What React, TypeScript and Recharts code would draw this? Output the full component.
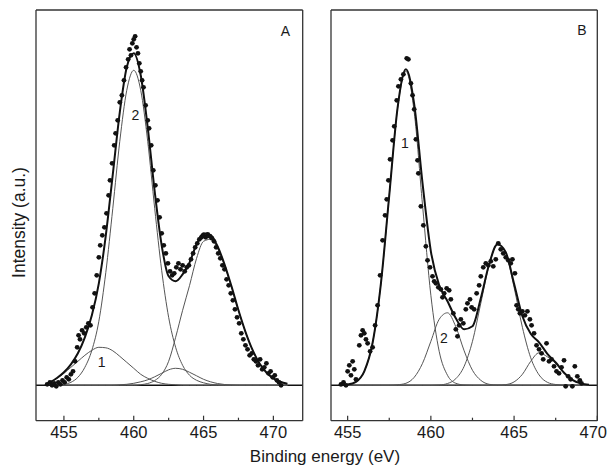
import React from "react";
import {
  ComposedChart,
  Line,
  Scatter,
  XAxis,
  YAxis,
  ReferenceLine,
} from "recharts";

// intensities are in arbitrary units, 0 = fitted background
const A_GRID = [
  454, 454.5, 455, 455.5, 456, 456.5, 457, 457.5, 458, 458.5, 459, 459.5, 460,
  460.5, 461, 461.5, 462, 462.5, 463, 463.5, 464, 464.5, 465, 465.5, 466, 466.5,
  467, 467.5, 468, 468.5, 469, 469.5, 470, 470.5, 471,
];
const A_PEAK1 = [
  3, 7, 12, 18, 24, 30, 35, 38, 37.5, 34.5, 29, 23, 17, 11, 7, 4, 2, 1, 0.5, 0,
  0, 0, 0, 0, 0, 0, 0, 0, 0, 0, 0, 0, 0, 0, 0,
];
const A_PEAK2 = [
  0, 0.3, 1, 3, 8, 18, 35, 64, 113, 177, 244, 295, 315, 295, 244, 177, 115, 68,
  38, 20, 10, 5, 2.5, 1, 0.4, 0, 0, 0, 0, 0, 0, 0, 0, 0, 0,
];
const A_PEAK3 = [
  0, 0, 0, 0, 0, 0, 0, 0, 0, 0, 0.5, 1, 2, 3.5, 5.5, 8.5, 12, 15.5, 17, 16, 13,
  9.5, 6, 3.5, 1.8, 0.8, 0.3, 0, 0, 0, 0, 0, 0, 0, 0,
];
const A_PEAK4 = [
  0, 0, 0, 0, 0, 0, 0, 0, 0, 0, 0, 0, 0, 0.6, 1.8, 4.7, 11, 24, 48, 75, 100,
  127, 144, 146, 137, 120, 98.5, 75, 53.5, 35.6, 22, 12.8, 6.9, 3.5, 1.6,
];
const A_FIT = [
  3, 7.3, 13, 21, 32, 48, 70, 102, 150, 211, 273, 318, 332, 310, 258, 194, 140,
  109, 104, 111, 123, 141, 152, 150.5, 139, 121, 99, 75, 53.5, 35.6, 22, 12.8,
  6.9, 3.5, 1.6,
];
const A_POINTS: [number, number][] = [
  [453.8, 1], [454.0, 3], [454.15, 0], [454.3, 2], [454.45, -1], [454.6, 3],
  [454.75, 1], [454.9, 5], [455.05, 3], [455.2, 8], [455.35, 6], [455.5, 11],
  [455.65, 14], [455.8, 24], [455.95, 38], [456.05, 50], [456.15, 46],
  [456.3, 55], [456.45, 52], [456.6, 58], [456.75, 62], [456.9, 60],
  [457.05, 78], [457.2, 92], [457.35, 110], [457.5, 128], [457.6, 140],
  [457.75, 150], [457.9, 158], [458.05, 172], [458.2, 190], [458.3, 205],
  [458.45, 222], [458.6, 240], [458.7, 252], [458.85, 265], [459.0, 283],
  [459.15, 290], [459.3, 305], [459.45, 318], [459.6, 326], [459.7, 336],
  [459.8, 330], [459.9, 342], [460.0, 346], [460.1, 349], [460.2, 338],
  [460.3, 332], [460.4, 322], [460.5, 314], [460.6, 305], [460.7, 298],
  [460.85, 280], [461.0, 265], [461.1, 257], [461.25, 240], [461.4, 215],
  [461.55, 200], [461.7, 185], [461.85, 168], [462.0, 152], [462.15, 140],
  [462.3, 132], [462.45, 122], [462.6, 114], [462.75, 110], [462.9, 112],
  [463.05, 118], [463.2, 122], [463.35, 116], [463.5, 120], [463.65, 114],
  [463.8, 118], [463.95, 120], [464.1, 126], [464.25, 132], [464.4, 138],
  [464.55, 142], [464.7, 146], [464.85, 148], [465.0, 150], [465.15, 148],
  [465.3, 151], [465.45, 149], [465.6, 147], [465.75, 144], [465.9, 138],
  [466.05, 132], [466.2, 127], [466.35, 120], [466.5, 116], [466.65, 106],
  [466.8, 100], [466.95, 92], [467.1, 85], [467.25, 76], [467.4, 68],
  [467.55, 62], [467.7, 52], [467.85, 46], [468.0, 40], [468.15, 36],
  [468.3, 30], [468.45, 32], [468.6, 26], [468.75, 24], [468.9, 20],
  [469.05, 26], [469.2, 16], [469.35, 18], [469.5, 22], [469.65, 12],
  [469.8, 14], [469.95, 8], [470.1, 10], [470.25, 5], [470.4, 3], [470.55, 0],
];

const B_GRID = [
  454.5, 455, 455.5, 456, 456.5, 457, 457.5, 458, 458.5, 459, 459.5, 460, 460.5,
  461, 461.5, 462, 462.5, 463, 463.5, 464, 464.5, 465, 465.5, 466, 466.5, 467,
  467.5, 468, 468.5, 469, 469.5,
];
const B_PEAK1 = [
  0, 0.7, 3.5, 14, 42.5, 102, 190, 277, 314, 273, 180, 90, 34, 10, 2, 0.3, 0, 0,
  0, 0, 0, 0, 0, 0, 0, 0, 0, 0, 0, 0, 0,
];
const B_PEAK2 = [
  0, 0, 0, 0, 0, 0, 0, 0.5, 2, 8, 22, 44, 66, 72.5, 58.5, 34.5, 15, 5, 1, 0.2,
  0, 0, 0, 0, 0, 0, 0, 0, 0, 0, 0,
];
const B_PEAK3 = [
  0, 0, 0, 0, 0, 0, 0, 0, 0, 0, 0, 0, 0.3, 1.8, 6.6, 19, 44, 82, 120, 141, 132,
  98, 58, 27.5, 10.4, 3, 0.8, 0.2, 0, 0, 0,
];
const B_PEAK4 = [
  0, 0, 0, 0, 0, 0, 0, 0, 0, 0, 0, 0, 0, 0, 0, 0, 0, 0, 0, 0.1, 0.7, 3.4, 11,
  24, 32.5, 28.5, 22, 12.4, 5.4, 1.9, 0.5,
];
const B_FIT = [
  0, 0.7, 3.5, 14, 42.5, 102, 190, 277.5, 316, 281, 202, 134, 100, 84, 67, 56,
  59, 87, 121, 141, 133, 101.5, 69, 51.5, 43, 31.5, 22.8, 12.6, 5.4, 1.9, 0.5,
];
const B_POINTS: [number, number][] = [
  [454.6, 1], [454.75, 3], [454.9, 0], [455.0, 14], [455.1, 20], [455.2, 10],
  [455.3, 24], [455.4, 16], [455.5, 6], [455.7, 40], [455.8, 50], [455.9, 55],
  [456.0, 52], [456.1, 46], [456.2, 42], [456.35, 34], [456.5, 38],
  [456.65, 60], [456.8, 80], [456.95, 110], [457.1, 145], [457.25, 170],
  [457.35, 186], [457.45, 205], [457.55, 226], [457.7, 245], [457.8, 259],
  [457.95, 285], [458.05, 299], [458.2, 306], [458.35, 311], [458.55, 327],
  [458.65, 326], [458.8, 302], [458.9, 290], [459.0, 276], [459.1, 246],
  [459.2, 225], [459.25, 212], [459.4, 179], [459.55, 160], [459.7, 139],
  [459.8, 125], [459.95, 118], [460.1, 109], [460.2, 104], [460.3, 102],
  [460.45, 98], [460.6, 96], [460.7, 88], [460.8, 92], [460.95, 97],
  [461.1, 95], [461.2, 86], [461.35, 72], [461.5, 56], [461.6, 49],
  [461.7, 60], [461.8, 66], [461.95, 62], [462.1, 76], [462.2, 82],
  [462.35, 86], [462.45, 78], [462.6, 76], [462.75, 92], [462.9, 100],
  [463.0, 109], [463.15, 118], [463.3, 122], [463.45, 120], [463.6, 124],
  [463.75, 119], [463.9, 126], [464.05, 142], [464.2, 136], [464.35, 132],
  [464.5, 128], [464.65, 125], [464.8, 122], [464.9, 126], [465.05, 112],
  [465.15, 80], [465.25, 76], [465.35, 72], [465.5, 74], [465.65, 70],
  [465.8, 74], [465.95, 66], [466.05, 60], [466.2, 52], [466.35, 40],
  [466.5, 36], [466.65, 32], [466.75, 26], [466.95, 42], [467.1, 24],
  [467.25, 26], [467.4, 19], [467.55, 14], [467.7, 12], [467.85, 18],
  [468.0, 25], [468.1, -1], [468.25, 9], [468.4, 6], [468.5, -1],
  [468.65, 19], [468.8, 9], [468.95, 5], [469.05, 2],
];

const A_DOMAIN: [number, number] = [453, 472.1];
const B_DOMAIN: [number, number] = [454, 470];
const Y_DOMAIN: [number, number] = [-35.4, 375.3];
const A_TICKS = [455, 457.5, 460, 462.5, 465, 467.5, 470];
const B_TICKS = [455, 457.5, 460, 462.5, 465, 467.5, 470];

const FONT = '"Liberation Sans", Arial, Helvetica, sans-serif';
const INK = "#1a1a1a";
const FRAME = { stroke: "#333", strokeWidth: 1.3 };

const rows = (xs: number[], ys: number[]) => xs.map((e, i) => ({ e, v: ys[i] }));
const pts = (list: [number, number][]) => list.map(([e, v]) => ({ e, v }));

const EnergyTick = (props: any) => {
  const { x, y, payload, limit } = props;
  const major = payload.value % 5 === 0;
  // keep the last label inside the picture, as the original does
  const tooFar = x + 14 > limit;
  return (
    <g>
      <line x1={x} x2={x} y1={y} y2={y - (major ? 5 : 3)} stroke="#333" strokeWidth={1.2} />
      {major && (
        <text
          x={tooFar ? limit - 1 : x}
          y={y + 17.5}
          textAnchor={tooFar ? "end" : "middle"}
          fontSize={16.5}
          fill={INK}
          fontFamily={FONT}
        >
          {payload.value}
        </text>
      )}
    </g>
  );
};

const Dot = (p: any) => <circle cx={p.cx} cy={p.cy} r={2.4} fill="#111" />;

interface PanelProps {
  width: number;
  margin: { top: number; right: number; bottom: number; left: number };
  domain: [number, number];
  ticks: number[];
  grid: number[];
  peaks: number[][];
  fit: number[];
  points: [number, number][];
}

function Panel({ width, margin, domain, ticks, grid, peaks, fit, points }: PanelProps) {
  return (
    <ComposedChart width={width} height={468} margin={margin}>
      <XAxis
        dataKey="e"
        type="number"
        domain={domain}
        ticks={ticks}
        height={1}
        tickSize={0}
        tickMargin={0}
        tickLine={false}
        tick={(p: any) => <EnergyTick {...p} limit={width} />}
        axisLine={FRAME}
        interval={0}
        allowDataOverflow
      />
      <XAxis
        xAxisId="top"
        orientation="top"
        type="number"
        domain={domain}
        height={1}
        tick={false}
        tickLine={false}
        axisLine={FRAME}
      />
      <YAxis
        dataKey="v"
        type="number"
        domain={Y_DOMAIN}
        width={1}
        tick={false}
        tickLine={false}
        axisLine={FRAME}
        allowDataOverflow
      />
      <YAxis
        yAxisId="right"
        orientation="right"
        type="number"
        domain={Y_DOMAIN}
        width={1}
        tick={false}
        tickLine={false}
        axisLine={FRAME}
      />
      <ReferenceLine y={0} stroke="#111" strokeWidth={1.6} />
      {peaks.map((peak, i) => (
        <Line
          key={i}
          data={rows(grid, peak)}
          dataKey="v"
          type="monotone"
          stroke="#555"
          strokeWidth={1}
          dot={false}
          isAnimationActive={false}
        />
      ))}
      <Scatter data={pts(points)} shape={Dot} isAnimationActive={false} />
      <Line
        data={rows(grid, fit)}
        dataKey="v"
        type="monotone"
        stroke="#111"
        strokeWidth={2}
        dot={false}
        isAnimationActive={false}
      />
    </ComposedChart>
  );
}

export default function App() {
  const txt = { fontFamily: FONT, fill: INK };
  return (
    <div style={{ position: "absolute", left: 0, top: 0, width: 608, height: 468, background: "#fff" }}>
      <div style={{ position: "absolute", left: 0, top: 0 }}>
        <Panel
          width={310}
          margin={{ top: 9, right: 6.3, bottom: 46.3, left: 35 }}
          domain={A_DOMAIN}
          ticks={A_TICKS}
          grid={A_GRID}
          peaks={[A_PEAK1, A_PEAK2, A_PEAK3, A_PEAK4]}
          fit={A_FIT}
          points={A_POINTS}
        />
      </div>
      <div style={{ position: "absolute", left: 310, top: 0 }}>
        <Panel
          width={298}
          margin={{ top: 9, right: 9.7, bottom: 46.3, left: 20 }}
          domain={B_DOMAIN}
          ticks={B_TICKS}
          grid={B_GRID}
          peaks={[B_PEAK1, B_PEAK2, B_PEAK3, B_PEAK4]}
          fit={B_FIT}
          points={B_POINTS}
        />
      </div>
      <svg width={608} height={468} style={{ position: "absolute", left: 0, top: 0, pointerEvents: "none" }}>
        <text x={18.5} y={222.5} transform="rotate(-90 18.5 222.5)" textAnchor="middle" dominantBaseline="central" fontSize={17.5} {...txt}>
          Intensity (a.u.)
        </text>
        <text x={325} y={462} textAnchor="middle" fontSize={17} {...txt}>
          Binding energy (eV)
        </text>
        <text x={285.3} y={36} textAnchor="middle" fontSize={14} {...txt}>A</text>
        <text x={582} y={35} textAnchor="middle" fontSize={14} {...txt}>B</text>
        <text x={101.7} y={366.5} textAnchor="middle" fontSize={14} {...txt}>1</text>
        <text x={135.5} y={120} textAnchor="middle" fontSize={14} {...txt}>2</text>
        <text x={405} y={148} textAnchor="middle" fontSize={14} {...txt}>1</text>
        <text x={444} y={343} textAnchor="middle" fontSize={14} {...txt}>2</text>
      </svg>
    </div>
  );
}
